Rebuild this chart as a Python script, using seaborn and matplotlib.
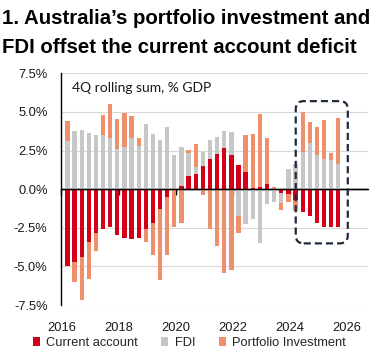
import numpy as np
import pandas as pd
import matplotlib
matplotlib.use("Agg")
import matplotlib.pyplot as plt
from matplotlib.patches import FancyBboxPatch
import seaborn as sns

# ---------------- data (4Q rolling sum, % of GDP) ----------------
quarters = [f"{y}Q{q}" for y in range(2016, 2026) for q in range(1, 5)][:39]  # 2016Q1 .. 2025Q3

current_account = [-4.98, -4.70, -4.41, -3.42, -2.83, -2.57, -2.44, -2.97, -3.15, -3.22,
                   -3.15, -2.59, -2.16, -1.27, -0.48, 0.00, 0.21, 0.85, 1.00, 1.50,
                   1.96, 2.29, 2.69, 2.21, 1.55, 1.08, 0.05, 0.15, 0.36, 0.00,
                   -0.26, -0.34, -0.72, -1.51, -1.73, -2.22, -2.44, -2.44, -2.44]
fdi = [3.12, 3.77, 3.82, 3.62, 3.50, 3.50, 3.32, 2.63, 2.70, 3.30,
       2.78, 4.20, 3.56, 3.17, 4.01, 2.20, 2.52, 1.48, 0.46, 0.92,
       1.23, 1.10, 1.06, 1.48, -1.75, -2.28, -1.96, -3.47, -0.93, -0.81,
       -0.64, 1.31, 1.60, 2.39, 2.96, 2.20, 1.94, 1.88, 1.62]
portfolio = [1.29, -1.30, -2.74, -2.38, -1.16, 1.29, 2.18, 1.90, 2.26, 1.42,
             0.52, -0.82, -2.09, -4.58, -3.77, -2.44, -2.22, 0.20, 1.49, -0.35,
             -2.55, -3.67, -5.42, -5.22, -1.08, 2.42, 3.51, 4.69, 2.95, 0.16,
             -0.44, -0.48, -0.70, 2.59, 1.38, 1.80, 2.53, 0.43, 2.96]

series_names = ["Current account", "FDI", "Portfolio Investment"]
series_colors = ["#D4001A", "#C7C7C7", "#EF8F6C"]
year_ticks = [2016, 2018, 2020, 2022, 2024, 2026]
y_ticks = [-7.5, -5.0, -2.5, 0.0, 2.5, 5.0, 7.5]
y_tick_labels = ["-7.5%", "-5.0%", "-2.5%", "0.0%", "2.5%", "5.0%", "7.5%"]
title_lines = ["1. Australia\u2019s portfolio investment and",
               "FDI offset the current account deficit"]
note = "4Q rolling sum, % GDP"

# quarter -> decimal date (mid of the quarter's last month)
qx = np.array([int(s[:4]) + (int(s[-1]) * 3 - 0.5) / 12 for s in quarters])

# ---------------- figure ----------------
sns.set_theme(style="white")
plt.rcParams["font.family"] = ["Liberation Sans", "DejaVu Sans"]
plt.rcParams["axes.unicode_minus"] = False

fig = plt.figure(figsize=(3.81, 3.58), dpi=100)
ax = fig.add_axes([0.1614, 0.148, 0.8037, 0.6472])

pos_base = np.zeros(len(qx))
neg_base = np.zeros(len(qx))
for name, vals, col in zip(series_names, [current_account, fdi, portfolio], series_colors):
    v = np.array(vals, dtype=float)
    bottom = np.where(v >= 0, pos_base, neg_base)
    df = pd.DataFrame({"x": qx, "v": v})
    sns.barplot(data=df, x="x", y="v", native_scale=True, width=0.6,
                color=col, saturation=1, errorbar=None, ax=ax,
                bottom=bottom, linewidth=0, label=name, zorder=2)
    pos_base = pos_base + np.where(v >= 0, v, 0)
    neg_base = neg_base + np.where(v < 0, v, 0)

if ax.get_legend() is not None:
    ax.get_legend().remove()

ax.set_xlim(2016.0, 2026.74)
ax.set_ylim(-7.5, 7.5)
ax.set_xlabel("")
ax.set_ylabel("")

# gridlines & axes styling
ax.set_yticks(y_ticks)
ax.set_yticklabels(y_tick_labels, fontsize=9.3, color="#1a1a1a")
ax.yaxis.grid(True, color="#D9D9D9", linewidth=0.8, zorder=0)
ax.set_axisbelow(True)
ax.tick_params(axis="y", length=0, pad=10)
ax.set_xticks(year_ticks)
ax.set_xticklabels([str(y) for y in year_ticks], fontsize=9.3, color="#1a1a1a")
ax.tick_params(axis="x", length=0, pad=12)
for s in ["top", "right", "bottom"]:
    ax.spines[s].set_visible(False)
ax.spines["left"].set_color("black")
ax.spines["left"].set_linewidth(1.0)
ax.axhline(0, color="black", linewidth=1.0, zorder=4)

# tick marks on the zero line
sec = ax.secondary_xaxis(0.5)
sec.set_alignment("bottom")
sec.set_xticks(year_ticks)
sec.set_xticklabels([""] * len(year_ticks))
sec.tick_params(axis="x", direction="out", length=4, width=1.0, color="black")
sec.spines["bottom"].set_color("black")
sec.spines["bottom"].set_linewidth(1.0)

# note
ax.text(0.033, 0.935, note, transform=ax.transAxes, fontsize=10,
        family=["Lato", "DejaVu Sans"], color="#1a1a1a", va="center", ha="left")

# dashed rounded highlight box (axes fraction coords)
bx0, bx1, by0, by1 = 0.765, 0.935, 0.266, 0.880
aspect = (fig.get_figheight() * 0.6472) / (fig.get_figwidth() * 0.8037)
box = FancyBboxPatch((bx0, by0), bx1 - bx0, by1 - by0, transform=ax.transAxes,
                     boxstyle="round,pad=0,rounding_size=0.026",
                     mutation_aspect=1 / aspect,
                     fill=False, edgecolor="#1F2A3A", linewidth=1.6,
                     linestyle=(0, (3.2, 1.8)), zorder=5, clip_on=False)
ax.add_patch(box)

# title
fig.text(0.005, 1 - 23.5 / 358, title_lines[0], fontsize=14.7, fontweight="bold",
         ha="left", va="baseline", color="black")
fig.text(0.005, 1 - 52.8 / 358, title_lines[1], fontsize=14.7, fontweight="bold",
         ha="left", va="baseline", color="black")

# legend
handles, labels = ax.get_legend_handles_labels()
leg = fig.legend(handles[:3], labels[:3], loc="center", bbox_to_anchor=(0.497, 0.042),
                 ncol=3, frameon=False, fontsize=9.3, handlelength=0.55, handleheight=0.6,
                 handletextpad=0.5, columnspacing=1.8, borderaxespad=0, borderpad=0)

fig.savefig("out.png", dpi=100)
